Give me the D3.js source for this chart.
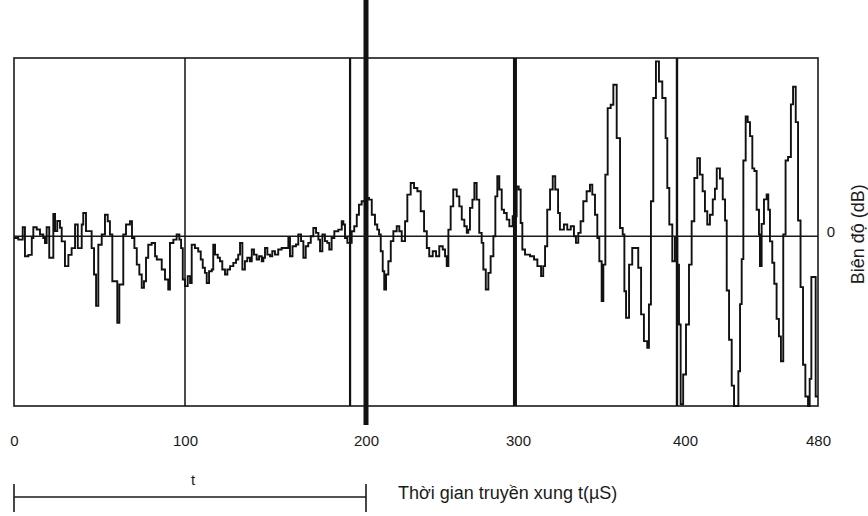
<!DOCTYPE html>
<html>
<head>
<meta charset="utf-8">
<script src="https://cdn.jsdelivr.net/npm/d3@7"></script>
<style>
  body { margin: 0; background: #fff; }
  text { font-family: "Liberation Sans Narrow", "Liberation Sans", Arial, sans-serif; fill: #1a1a1a; }
</style>
</head>
<body>
<svg id="chart" width="868" height="516"></svg>
<script>
// pulse echo amplitude (dB) against travel time (µs)
const signal = [
  [0,-0.1],[0.6,-0.1],[2.5,-0.2],[5.1,0.53],[6.4,-1.18],[8.4,-1.1],[10.4,-0.1],[11.3,0.53],[13.3,0.4],
  [15.2,0.1],[17.1,-0.1],[18.1,-0.4],[19.1,0.53],[20.6,-1.27],[23.0,1.31],[24.0,0.3],[25.3,0.9],
  [26.9,0.5],[27.9,-0.3],[29.8,-1.76],[31.8,-1.1],[33.7,-0.7],[35.7,0.69],[37.3,-0.7],[39.6,0.69],
  [40.5,1.37],[42.1,0.3],[44.0,0.3],[45.4,-0.7],[46.8,-2.25],[48.0,-4.1],[49.3,-0.5],[51.3,0.1],
  [53.2,1.27],[54.8,0.88],[56.1,0.1],[57.5,-2.65],[59.5,-2.65],[60.4,-5.1],[61.6,-2.84],[63.9,0.1],
  [65.5,0.69],[67.8,0.88],[69.0,-0.1],[70.4,-0.7],[71.8,-1.67],[73.3,-2.25],[74.7,-3.04],[76.0,-2.65],
  [77.2,-1.27],[78.5,-0.5],[80.5,-0.4],[82.5,-1.18],[83.5,-1.37],[86.4,-1.96],[88.3,-2.55],[90.2,-3.14],
  [91.2,-0.4],[93.2,-0.2],[95.1,0.1],[96.7,-0.2],[97.7,-0.7],[98.7,-2.55],[100,-2.94],[101.5,-2.35],
  [102.8,-2.75],[103.7,-0.5],[105.5,-0.7],[107.3,-0.9],[108.7,-1.37],[109.8,-1.86],[111.0,-2.16],
  [112.0,-2.75],[113.3,-2.06],[114.8,-1.96],[115.6,-0.5],[116.6,-1.08],[118.1,-1.27],[119.3,-1.47],
  [120.6,-1.96],[122.1,-2.25],[123.4,-1.96],[124.9,-1.76],[126.7,-1.57],[128.2,-1.37],[129.4,-1.08],
  [130.4,-0.4],[131.7,-1.96],[133.1,-1.47],[134.4,-1.27],[135.9,-1.47],[136.9,-0.78],[138.1,-1.08],
  [139.6,-1.37],[140.9,-1.18],[142.4,-1.47],[143.3,-1.27],[144.2,-0.69],[145.5,-1.08],[147.0,-1.18],
  [148.2,-0.88],[149.7,-1.08],[151.5,-0.78],[153.4,-0.69],[156.2,-0.69],[157.1,-0.1],[158.0,-1.18],
  [159.4,-0.59],[161.3,-0.49],[162.6,0.1],[164.1,-0.29],[165.4,-1.27],[166.7,-0.59],[168.1,-0.39],
  [169.5,0],[170.9,0.49],[172.4,0.2],[173.7,-0.2],[174.6,-0.88],[175.9,0.1],[177.3,-0.29],[178.6,-0.39],
  [179.7,-0.78],[181.0,-0.1],[182.5,0.29],[184.7,0.39],[186.6,0.88],[187.5,0.69],[188.4,-0.1],
  [189.7,-0.39],[192.1,0.29],[193.5,0.59],[194.9,1.27],[196.1,1.86],[197.6,2.06],[200,2.25],[202.0,2.16],
  [203.8,1.27],[205.9,0.69],[207.4,0.39],[208.6,0.1],[209.7,-0.88],[211.0,-2.06],[212.0,-3.14],
  [213.2,-2.25],[214.7,-1.47],[216.3,-0.29],[218.0,0.29],[220.2,0.59],[221.9,0.29],[223.5,-0.29],
  [225.7,0.88],[227.2,2.45],[229.4,3.14],[231.6,2.84],[233.8,2.65],[236.0,1.47],[238.2,0.29],
  [240.0,-0.69],[241.6,-1.18],[243.9,-0.88],[246.1,-1.18],[248.2,-0.59],[250.5,-0.78],[252.0,-1.18],
  [253.1,-1.76],[254.2,0.39],[255.7,1.76],[257.4,2.75],[259.7,2.35],[261.4,1.76],[263.0,0.98],
  [264.7,0.59],[266.3,0.2],[267.3,0.39],[268.4,1.67],[270.0,2.16],[271.3,3.14],[272.8,2.16],[274.5,0.2],
  [276.1,-0.39],[277.2,-1.96],[278.8,-3.14],[280.5,-2.16],[282.0,-1.18],[283.8,0],[285.1,2.35],
  [286.4,3.53],[287.7,2.75],[289.3,1.57],[290.8,1.37],[292.6,0.98],[294.3,0.59],[296.5,1.18],
  [299.1,2.94],[300.4,2.75],[301.6,0.78],[302.6,-0.78],[304.2,-1.08],[307.2,-1.18],[309.6,-1.37],
  [311.6,-1.76],[313.8,-2.35],[315.1,-1.76],[316.2,-0.59],[317.5,1.57],[319.2,2.75],[320.8,3.53],
  [322.3,2.75],[324.0,1.37],[325.1,0.39],[327.5,0.69],[329.5,0.39],[331.6,0.59],[333.5,0],
  [334.7,-0.39],[336.1,0.2],[337.5,0.88],[339.1,2.06],[341.1,2.65],[343.1,3.04],[344.5,2.45],
  [346.1,1.27],[347.5,-0.1],[348.7,-1.47],[350.1,-3.82],[351.1,-1.67],[352.3,3.63],[353.7,7.55],
  [355.5,7.75],[357.1,8.92],[359.1,5.78],[361.1,0.49],[362.7,0.1],[363.7,-3.24],[364.7,-4.8],
  [366.5,-1.67],[368.4,-0.69],[370.5,-0.69],[372.0,-1.86],[373.7,-4.6],[375.4,-6.18],[377.4,-6.57],
  [378.4,-4.02],[379.6,2.06],[381.0,8.14],[382.6,10.3],[384.4,9.12],[386.4,8.14],[388.4,5.78],
  [389.4,2.84],[390.6,0.69],[392.4,-1.47],[394.0,-0.1],[395.4,-1.67],[396.4,-5.2],[397.4,-9.9],
  [398.9,-8.14],[400.6,-5.2],[402.4,-1.67],[404.0,0.88],[405.6,3.43],[407.4,4.6],[409.0,3.63],
  [410.6,2.65],[412.0,1.47],[413.4,0.69],[415.0,1.27],[416.7,2.17],[418.0,2.8],[419.1,4.0],[421.0,3.4],
  [422.7,2.17],[424.1,0.93],[425.1,-3.2],[426.5,-6.1],[428.1,-8.8],[429.5,-10],[431.1,-10],
  [432.1,-7.95],[433.1,-4.0],[434.1,-1.35],[435.1,4.46],[436.5,7.06],[437.7,6.72],[439.1,5.9],
  [440.5,4.0],[441.7,3.84],[443.1,1.56],[444.5,0.1],[445.1,-1.76],[446.1,0.73],[447.5,2.17],
  [449.1,2.46],[450.1,1.56],[451.1,-0.3],[452.5,-1.56],[453.7,-2.8],[455.1,-4.87],[456.5,-5.9],
  [457.7,-7.36],[459.1,0.1],[460.5,4.46],[462.0,4.67],[463.7,7.77],[465.0,8.81],[466.6,6.72],
  [468.0,0.93],[469.5,-3.0],[471.0,-7.57],[472.4,-9.44],[474.0,-10],[475.0,-8.4],[476.0,-2.4],
  [477.4,-2.4],[478.6,-9.44],[480,-9.44]
];

const tickValues = [0, 100, 200, 300, 400, 480];
const markerTimes = [100, 191.2, 200, 298, 395.2]; // vertical gate lines
const scaleBarSpan = [0, 200];
const scaleBarLabel = "t";
const xTitle = "Thời gian truyền xung t(µS)";
const yTitle = "Biên độ (dB)";

let svg = d3.select("#chart");

// the scan is not quite linear, so anchor each tick where it sits
let x = d3.scaleLinear()
  .domain(tickValues)
  .range([14, 185, 366, 518, 685, 818]);

let y = d3.scaleLinear().domain([-10, 10.5]).range([406, 58]);

let plot = svg.append("g");

plot.append("rect")
  .attr("x", x(0))
  .attr("y", y(10.5))
  .attr("width", x(480) - x(0))
  .attr("height", y(-10) - y(10.5))
  .style("fill", "none")
  .style("stroke", "#1a1a1a")
  .style("stroke-width", 1.6);

// gate lines, the one at 200 runs past the frame
let markerWidth = [1.5, 2.2, 5, 4, 2.4];
plot.selectAll(".marker")
  .data(markerTimes)
  .join("line")
  .attr("class", "marker")
  .attr("x1", (d) => x(d))
  .attr("x2", (d) => x(d))
  .attr("y1", (d) => (d == 200 ? 0 : y(10.5)))
  .attr("y2", (d) => (d == 200 ? 425 : y(-10)))
  .style("stroke", "#111")
  .style("stroke-width", (d, i) => markerWidth[i]);

// zero amplitude line
plot.append("line")
  .attr("x1", x(0))
  .attr("x2", x(480))
  .attr("y1", y(0))
  .attr("y2", y(0))
  .style("stroke", "#1a1a1a")
  .style("stroke-width", 1.4);

let line = d3.line()
  .x((d) => x(d[0]))
  .y((d) => y(Math.max(-10, Math.min(10.5, d[1]))))
  .curve(d3.curveStepAfter);

plot.append("path")
  .datum(signal)
  .attr("d", line)
  .style("fill", "none")
  .style("stroke", "#111")
  .style("stroke-width", 1.9)
  .style("stroke-linejoin", "miter");

// time axis labels only, no ticks
let xAxis = svg.append("g")
  .attr("transform", "translate(0,441)")
  .call(d3.axisBottom(x).tickValues(tickValues).tickSize(0).tickPadding(0));
xAxis.select(".domain").remove();
xAxis.selectAll("text")
  .attr("dy", "0.35em")
  .style("font-size", "15px")
  .style("font-family", "'Liberation Sans Narrow', 'Liberation Sans', Arial, sans-serif")
  .style("fill", "#1a1a1a");

// amplitude zero label and title on the right
svg.append("text")
  .attr("x", 831)
  .attr("y", y(0) - 4)
  .attr("text-anchor", "middle")
  .attr("dy", "0.35em")
  .style("font-size", "15px")
  .text("0");

svg.append("text")
  .attr("transform", `translate(858,${y(0) - 2}) rotate(-90)`)
  .attr("text-anchor", "middle")
  .attr("dy", "0.35em")
  .style("font-size", "18px")
  .text(yTitle);

// scale bar for t
let barY = 497;
svg.append("line")
  .attr("x1", x(scaleBarSpan[0]))
  .attr("x2", x(scaleBarSpan[1]))
  .attr("y1", barY)
  .attr("y2", barY)
  .style("stroke", "#1a1a1a")
  .style("stroke-width", 1.6);

svg.selectAll(".barEnd")
  .data(scaleBarSpan)
  .join("line")
  .attr("class", "barEnd")
  .attr("x1", (d) => x(d))
  .attr("x2", (d) => x(d))
  .attr("y1", barY - 13)
  .attr("y2", barY + 15)
  .style("stroke", "#1a1a1a")
  .style("stroke-width", 1.6);

svg.append("text")
  .attr("x", x(100) + 8)
  .attr("y", 485)
  .attr("text-anchor", "middle")
  .style("font-size", "15px")
  .text(scaleBarLabel);

svg.append("text")
  .attr("x", 398)
  .attr("y", 499)
  .style("font-size", "18px")
  .text(xTitle);
</script>
</body>
</html>
